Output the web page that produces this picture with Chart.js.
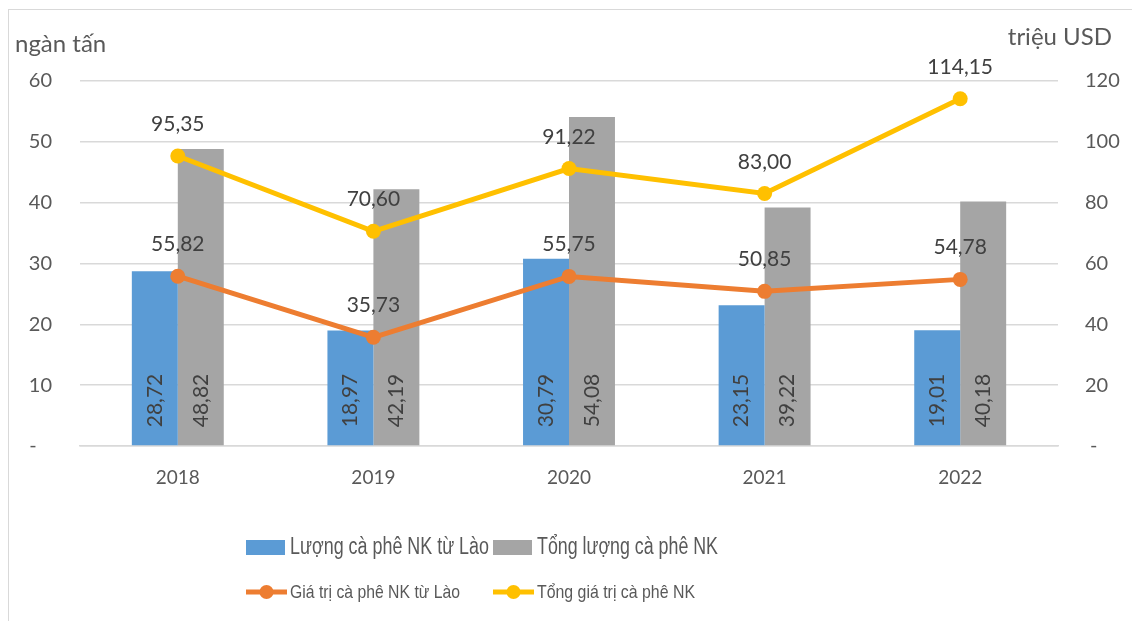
<!DOCTYPE html>
<html>
<head>
<meta charset="utf-8">
<script src="https://cdn.jsdelivr.net/npm/chart.js@4"></script>
<style>
  html, body { margin: 0; padding: 0; background: #fff; }
  #khung { position: absolute; left: 8px; top: 9px; width: 1140px; height: 640px; border: 1.5px solid #D9D9D9; box-sizing: border-box; }
  #contenedor { position: absolute; left: 0; top: 0; width: 1132px; height: 621px; }
</style>
</head>
<body>
<div id="khung"></div>
<div id="contenedor"><canvas id="grafico"></canvas></div>
<script>
// Datos del gráfico
const namNhap = ['2018', '2019', '2020', '2021', '2022'];
const luongLao = [28.72, 18.97, 30.79, 23.15, 19.01];
const tongLuong = [48.82, 42.19, 54.08, 39.22, 40.18];
const giaTriLao = [55.82, 35.73, 55.75, 50.85, 54.78];
const tongGiaTri = [95.35, 70.60, 91.22, 83.00, 114.15];
const ticksTrai = [0, 10, 20, 30, 40, 50, 60];
const ticksPhai = [0, 20, 40, 60, 80, 100, 120];

const tenLuong = ['Lượng cà phê NK từ Lào', 'Tổng lượng cà phê NK'];
const tenGiaTri = ['Giá trị cà phê NK từ Lào', 'Tổng giá trị cà phê NK'];

const fuente = 'Lato, "Open Sans", sans-serif';
const grisTexto = '#595959';
const textoDato = '#404040';

const formatear = v => v.toFixed(2).replace('.', ',');

//Plugin para etiquetas de datos, títulos de ejes y leyenda.
const extras = {
    id: 'extras',
    afterDatasetsDraw(chart) {
        const ctx = chart.ctx;
        ctx.save();
        ctx.fillStyle = textoDato;
        ctx.font = '21px ' + fuente;
        chart.data.datasets.forEach((ds, i) => {
            const meta = chart.getDatasetMeta(i);
            meta.data.forEach((el, j) => {
                const txt = formatear(ds.data[j]);
                if (ds.type === 'bar') {
                    ctx.save();
                    ctx.translate(el.x, el.base - 18);
                    ctx.rotate(-Math.PI / 2);
                    ctx.textAlign = 'left';
                    ctx.textBaseline = 'middle';
                    ctx.fillText(txt, 0, 0);
                    ctx.restore();
                } else {
                    ctx.textAlign = 'center';
                    ctx.textBaseline = 'alphabetic';
                    ctx.fillText(txt, el.x, el.y - 25);
                }
            });
        });
        ctx.restore();
    },
    afterDraw(chart) {
        const ctx = chart.ctx;
        const ds = chart.data.datasets;
        ctx.save();
        // Títulos de ejes
        ctx.fillStyle = grisTexto;
        ctx.font = '24px ' + fuente;
        ctx.textBaseline = 'middle';
        ctx.textAlign = 'left';
        ctx.fillText('ngàn tấn', 15, 44);
        ctx.textAlign = 'right';
        ctx.fillText('triệu USD', 1112, 37);

        // Leyenda fila 1 (barras), texto condensado
        const colX = [246, 493];
        const ancho1 = [199, 181];
        const ancho2 = [170, 158];
        ctx.textAlign = 'left';
        ctx.font = '23px "Liberation Sans", sans-serif';
        [0, 1].forEach(k => {
            ctx.fillStyle = ds[k].backgroundColor;
            ctx.fillRect(colX[k], 540, 39, 15);
            ctx.fillStyle = grisTexto;
            ctx.fillText(ds[k].label, colX[k] + 44, 548, ancho1[k]);
        });
        // Leyenda fila 2 (líneas)
        ctx.font = '19px "Liberation Sans", sans-serif';
        [2, 3].forEach((k, n) => {
            const x0 = colX[n];
            ctx.strokeStyle = ds[k].borderColor;
            ctx.lineWidth = 5;
            ctx.beginPath();
            ctx.moveTo(x0, 592);
            ctx.lineTo(x0 + 41, 592);
            ctx.stroke();
            ctx.fillStyle = ds[k].borderColor;
            ctx.beginPath();
            ctx.arc(x0 + 20.5, 592, 7, 0, Math.PI * 2);
            ctx.fill();
            ctx.fillStyle = grisTexto;
            ctx.fillText(ds[k].label, x0 + 44, 593, ancho2[n]);
        });
        ctx.restore();
    }
};

const ctx = document.querySelector('#grafico').getContext('2d');
const myChart = new Chart(ctx, {
    data: {
        labels: namNhap,
        datasets: [
            {
                type: 'bar',
                label: tenLuong[0],
                data: luongLao,
                backgroundColor: '#5B9BD5',
                yAxisID: 'y',
                order: 2,
                barPercentage: 1,
                categoryPercentage: 0.47
            },
            {
                type: 'bar',
                label: tenLuong[1],
                data: tongLuong,
                backgroundColor: '#A5A5A5',
                yAxisID: 'y',
                order: 2,
                barPercentage: 1,
                categoryPercentage: 0.47
            },
            {
                type: 'line',
                label: tenGiaTri[0],
                data: giaTriLao,
                borderColor: '#ED7D31',
                backgroundColor: '#ED7D31',
                borderWidth: 5,
                pointRadius: 7.5,
                pointBackgroundColor: '#ED7D31',
                pointBorderWidth: 0,
                yAxisID: 'y1',
                order: 1
            },
            {
                type: 'line',
                label: tenGiaTri[1],
                data: tongGiaTri,
                borderColor: '#FFC000',
                backgroundColor: '#FFC000',
                borderWidth: 5,
                pointRadius: 7.5,
                pointBackgroundColor: '#FFC000',
                pointBorderWidth: 0,
                yAxisID: 'y1',
                order: 0
            }
        ]
    },
    options: {
        responsive: true,
        maintainAspectRatio: false,
        animation: false,
        layout: { padding: { top: 81 } },
        plugins: {
            legend: { display: false },
            tooltip: { enabled: false }
        },
        scales: {
            x: {
                grid: { display: false, drawTicks: false },
                border: { color: '#D9D9D9', width: 1.5 },
                ticks: { color: grisTexto, font: { family: fuente, size: 19 }, padding: 20 },
                afterFit: s => { s.height = 175; }
            },
            y: {
                position: 'left',
                min: 0,
                max: 60,
                afterBuildTicks: s => { s.ticks = ticksTrai.map(v => ({ value: v })); },
                grid: { color: '#D9D9D9', lineWidth: 1.5, drawTicks: false },
                border: { display: false },
                ticks: {
                    color: grisTexto,
                    font: { family: fuente, size: 20 },
                    padding: 28,
                    callback: v => v === 0 ? '-   ' : v
                },
                afterFit: s => { s.width = 80; }
            },
            y1: {
                position: 'right',
                min: 0,
                max: 120,
                afterBuildTicks: s => { s.ticks = ticksPhai.map(v => ({ value: v })); },
                grid: { display: false, drawTicks: false },
                border: { display: false },
                ticks: {
                    color: grisTexto,
                    font: { family: fuente, size: 20 },
                    padding: 27,
                    callback: v => v === 0 ? ' -' : v
                },
                afterFit: s => { s.width = 74; }
            }
        }
    },
    plugins: [extras]
});
</script>
</body>
</html>
